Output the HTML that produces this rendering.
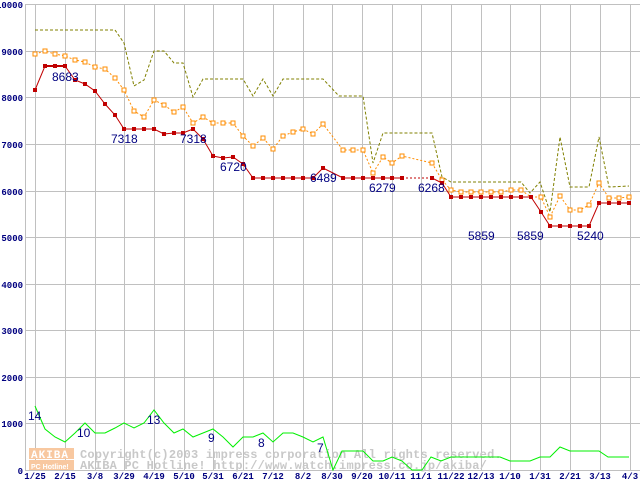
<!DOCTYPE html>
<html><head><meta charset="utf-8"><style>
body{margin:0;background:#fff;}
svg{display:block;font-family:"Liberation Sans",sans-serif;}
.ax{font-family:"Liberation Mono",monospace;font-size:9px;font-weight:bold;fill:#000080;}
.lb{font-size:12px;fill:#000080;}
.wm{font-family:"Liberation Mono",monospace;font-size:12px;font-weight:bold;fill:#c8c8c8;letter-spacing:0.2px;}
</style></head><body>
<svg width="640" height="480" viewBox="0 0 640 480">
<rect width="640" height="480" fill="#fff"/>
<g stroke="#c0c0c0" stroke-width="1">
<line x1="25" y1="4.5" x2="640" y2="4.5"/><line x1="25" y1="51.5" x2="640" y2="51.5"/><line x1="25" y1="97.5" x2="640" y2="97.5"/><line x1="25" y1="144.5" x2="640" y2="144.5"/><line x1="25" y1="191.5" x2="640" y2="191.5"/><line x1="25" y1="237.5" x2="640" y2="237.5"/><line x1="25" y1="284.5" x2="640" y2="284.5"/><line x1="25" y1="330.5" x2="640" y2="330.5"/><line x1="25" y1="377.5" x2="640" y2="377.5"/><line x1="25" y1="423.5" x2="640" y2="423.5"/><line x1="25" y1="470.5" x2="640" y2="470.5"/>
<line x1="25.5" y1="4" x2="25.5" y2="470"/>
<line x1="35.5" y1="4" x2="35.5" y2="470"/><line x1="65.5" y1="4" x2="65.5" y2="470"/><line x1="95.5" y1="4" x2="95.5" y2="470"/><line x1="124.5" y1="4" x2="124.5" y2="470"/><line x1="154.5" y1="4" x2="154.5" y2="470"/><line x1="184.5" y1="4" x2="184.5" y2="470"/><line x1="213.5" y1="4" x2="213.5" y2="470"/><line x1="243.5" y1="4" x2="243.5" y2="470"/><line x1="273.5" y1="4" x2="273.5" y2="470"/><line x1="303.5" y1="4" x2="303.5" y2="470"/><line x1="332.5" y1="4" x2="332.5" y2="470"/><line x1="362.5" y1="4" x2="362.5" y2="470"/><line x1="392.5" y1="4" x2="392.5" y2="470"/><line x1="421.5" y1="4" x2="421.5" y2="470"/><line x1="451.5" y1="4" x2="451.5" y2="470"/><line x1="481.5" y1="4" x2="481.5" y2="470"/><line x1="510.5" y1="4" x2="510.5" y2="470"/><line x1="540.5" y1="4" x2="540.5" y2="470"/><line x1="570.5" y1="4" x2="570.5" y2="470"/><line x1="600.5" y1="4" x2="600.5" y2="470"/><line x1="630.5" y1="4" x2="630.5" y2="470"/>
</g>
<g class="ax" text-anchor="end">
<text x="23" y="8">10000</text><text x="23" y="55">9000</text><text x="23" y="101">8000</text><text x="23" y="148">7000</text><text x="23" y="195">6000</text><text x="23" y="241">5000</text><text x="23" y="288">4000</text><text x="23" y="334">3000</text><text x="23" y="381">2000</text><text x="23" y="427">1000</text><text x="23" y="474">0</text>
</g>
<g class="ax" text-anchor="middle">
<text x="35" y="479">1/25</text><text x="65" y="479">2/15</text><text x="95" y="479">3/8</text><text x="124" y="479">3/29</text><text x="154" y="479">4/19</text><text x="184" y="479">5/10</text><text x="213" y="479">5/31</text><text x="243" y="479">6/21</text><text x="273" y="479">7/12</text><text x="303" y="479">8/2</text><text x="332" y="479">8/30</text><text x="362" y="479">9/20</text><text x="392" y="479">10/11</text><text x="421" y="479">11/1</text><text x="451" y="479">11/22</text><text x="481" y="479">12/13</text><text x="510" y="479">1/10</text><text x="540" y="479">1/31</text><text x="570" y="479">2/21</text><text x="600" y="479">3/13</text><text x="630" y="479">4/3</text>
</g>
<rect x="29" y="448" width="45" height="11" fill="#f8c8a0"/>
<rect x="29" y="460" width="45" height="10" fill="#f8c8a0"/>
<text x="31" y="458" font-family="Liberation Mono,monospace" font-size="11" font-weight="bold" fill="#fff" letter-spacing="1">AKIBA</text>
<text x="31" y="469" font-family="Liberation Sans,sans-serif" font-size="7" font-weight="bold" fill="#fff">PC Hotline!</text>
<text class="wm" x="80" y="458">Copyright(c)2003 impress corporation All rights reserved.</text>
<text class="wm" x="80" y="469">AKIBA PC Hotline!  http://www.watch.impress.co.jp/akiba/</text>
<polyline fill="none" stroke="#808000" stroke-width="1" stroke-dasharray="3,2" points="35,30 115,30 124,43 134,86 144,80 154,51 164,51 174,63 183,63 193,97 203,79 213,79 243,79 253,96 263,79 273,96 283,79 323,79 339,96 363,96 373,163 383,133 432,133 442,177 451,182 521,182 530,193 540,182 550,212 560,137 570,187 589,187 599,137 609,187 629,186"/>
<polyline fill="none" stroke="#ff8c00" stroke-width="1" stroke-dasharray="2,2" points="35,54 45,51 55,54 65,56 75,60 85,62 95,67 105,69 115,78 124,90 134,111 144,117 154,100 164,105 174,112 183,107 193,123 203,117 213,123 223,123 233,123 243,136 253,146 263,138 273,149 283,136 293,132 303,129 313,134 323,124 343,150 353,150 363,150 373,173 383,157 392,163 402,156 432,163 442,180 451,190 461,192 471,192 481,192 491,192 501,192 511,190 521,190 531,197 541,197 550,217 560,196 570,210 580,210 589,205 599,183 609,198 619,198 629,197"/>
<g fill="#fff" stroke="#ff8c00" stroke-width="1">
<rect x="33" y="52" width="4" height="4"/><rect x="43" y="49" width="4" height="4"/><rect x="53" y="52" width="4" height="4"/><rect x="63" y="54" width="4" height="4"/><rect x="73" y="58" width="4" height="4"/><rect x="83" y="60" width="4" height="4"/><rect x="93" y="65" width="4" height="4"/><rect x="103" y="67" width="4" height="4"/><rect x="113" y="76" width="4" height="4"/><rect x="122" y="88" width="4" height="4"/><rect x="132" y="109" width="4" height="4"/><rect x="142" y="115" width="4" height="4"/><rect x="152" y="98" width="4" height="4"/><rect x="162" y="103" width="4" height="4"/><rect x="172" y="110" width="4" height="4"/><rect x="181" y="105" width="4" height="4"/><rect x="191" y="121" width="4" height="4"/><rect x="201" y="115" width="4" height="4"/><rect x="211" y="121" width="4" height="4"/><rect x="221" y="121" width="4" height="4"/><rect x="231" y="121" width="4" height="4"/><rect x="241" y="134" width="4" height="4"/><rect x="251" y="144" width="4" height="4"/><rect x="261" y="136" width="4" height="4"/><rect x="271" y="147" width="4" height="4"/><rect x="281" y="134" width="4" height="4"/><rect x="291" y="130" width="4" height="4"/><rect x="301" y="127" width="4" height="4"/><rect x="311" y="132" width="4" height="4"/><rect x="321" y="122" width="4" height="4"/><rect x="341" y="148" width="4" height="4"/><rect x="351" y="148" width="4" height="4"/><rect x="361" y="148" width="4" height="4"/><rect x="371" y="171" width="4" height="4"/><rect x="381" y="155" width="4" height="4"/><rect x="390" y="161" width="4" height="4"/><rect x="400" y="154" width="4" height="4"/><rect x="430" y="161" width="4" height="4"/><rect x="440" y="178" width="4" height="4"/><rect x="449" y="188" width="4" height="4"/><rect x="459" y="190" width="4" height="4"/><rect x="469" y="190" width="4" height="4"/><rect x="479" y="190" width="4" height="4"/><rect x="489" y="190" width="4" height="4"/><rect x="499" y="190" width="4" height="4"/><rect x="509" y="188" width="4" height="4"/><rect x="519" y="188" width="4" height="4"/><rect x="539" y="195" width="4" height="4"/><rect x="548" y="215" width="4" height="4"/><rect x="558" y="194" width="4" height="4"/><rect x="568" y="208" width="4" height="4"/><rect x="578" y="208" width="4" height="4"/><rect x="587" y="203" width="4" height="4"/><rect x="597" y="181" width="4" height="4"/><rect x="607" y="196" width="4" height="4"/><rect x="617" y="196" width="4" height="4"/><rect x="627" y="195" width="4" height="4"/>
</g>
<polyline fill="none" stroke="#c00000" stroke-width="1" points="35,90 45,66 55,66 65,66 75,80 85,84 95,91 105,104 115,115 124,129 134,129 144,129 154,129 164,134 174,133 183,133 193,129 203,139 213,156 223,158 233,157 243,164 253,178 313,178 323,168 343,178 402,178"/>
<polyline fill="none" stroke="#c00000" stroke-width="1" stroke-dasharray="2,2" points="402,178 432,178"/>
<polyline fill="none" stroke="#c00000" stroke-width="1" points="432,178 442,183 451,197 531,197 541,212 550,226 589,226 599,203 629,203"/>
<polyline fill="none" stroke="#c00000" stroke-width="2" points="45,66 65,66"/>
<g fill="#c00000">
<rect x="33" y="88" width="4" height="4"/><rect x="43" y="64" width="4" height="4"/><rect x="53" y="64" width="4" height="4"/><rect x="63" y="64" width="4" height="4"/><rect x="73" y="78" width="4" height="4"/><rect x="83" y="82" width="4" height="4"/><rect x="93" y="89" width="4" height="4"/><rect x="103" y="102" width="4" height="4"/><rect x="113" y="113" width="4" height="4"/><rect x="122" y="127" width="4" height="4"/><rect x="132" y="127" width="4" height="4"/><rect x="142" y="127" width="4" height="4"/><rect x="152" y="127" width="4" height="4"/><rect x="162" y="132" width="4" height="4"/><rect x="172" y="131" width="4" height="4"/><rect x="181" y="131" width="4" height="4"/><rect x="191" y="127" width="4" height="4"/><rect x="201" y="137" width="4" height="4"/><rect x="211" y="154" width="4" height="4"/><rect x="221" y="156" width="4" height="4"/><rect x="231" y="155" width="4" height="4"/><rect x="241" y="162" width="4" height="4"/><rect x="251" y="176" width="4" height="4"/><rect x="261" y="176" width="4" height="4"/><rect x="271" y="176" width="4" height="4"/><rect x="281" y="176" width="4" height="4"/><rect x="291" y="176" width="4" height="4"/><rect x="301" y="176" width="4" height="4"/><rect x="311" y="176" width="4" height="4"/><rect x="321" y="166" width="4" height="4"/><rect x="341" y="176" width="4" height="4"/><rect x="351" y="176" width="4" height="4"/><rect x="361" y="176" width="4" height="4"/><rect x="371" y="176" width="4" height="4"/><rect x="381" y="176" width="4" height="4"/><rect x="390" y="176" width="4" height="4"/><rect x="400" y="176" width="4" height="4"/><rect x="430" y="176" width="4" height="4"/><rect x="440" y="181" width="4" height="4"/><rect x="449" y="195" width="4" height="4"/><rect x="459" y="195" width="4" height="4"/><rect x="469" y="195" width="4" height="4"/><rect x="479" y="195" width="4" height="4"/><rect x="489" y="195" width="4" height="4"/><rect x="499" y="195" width="4" height="4"/><rect x="509" y="195" width="4" height="4"/><rect x="519" y="195" width="4" height="4"/><rect x="529" y="195" width="4" height="4"/><rect x="539" y="210" width="4" height="4"/><rect x="548" y="224" width="4" height="4"/><rect x="558" y="224" width="4" height="4"/><rect x="568" y="224" width="4" height="4"/><rect x="578" y="224" width="4" height="4"/><rect x="587" y="224" width="4" height="4"/><rect x="597" y="201" width="4" height="4"/><rect x="607" y="201" width="4" height="4"/><rect x="617" y="201" width="4" height="4"/><rect x="627" y="201" width="4" height="4"/>
</g>
<polyline fill="none" stroke="#00f000" stroke-width="1" points="35,406 45,429 55,437 65,442 75,433 85,423 95,433 105,433 115,428 124,423 134,428 144,423 154,410 164,423 174,433 183,429 193,437 203,433 213,429 223,437 233,447 243,437 253,437 263,433 273,442 283,433 293,433 303,437 313,442 323,437 333,470 342,451 363,451 373,461 383,461 392,457 402,461 412,470 422,470 431,457 441,461 451,457 500,457 510,461 530,461 540,457 550,457 560,447 570,451 599,451 608,457 629,457"/>
<g class="lb">
<text x="52" y="81">8683</text><text x="111" y="143">7318</text><text x="180" y="143">7318</text><text x="220" y="171">6720</text><text x="310" y="182">6489</text><text x="369" y="192">6279</text><text x="418" y="192">6268</text><text x="468" y="240">5859</text><text x="517" y="240">5859</text><text x="577" y="240">5240</text>
<text x="28" y="420">14</text><text x="77" y="437">10</text><text x="147" y="424">13</text><text x="208" y="442">9</text><text x="258" y="447">8</text><text x="317" y="452">7</text>
</g>
</svg>
</body></html>
